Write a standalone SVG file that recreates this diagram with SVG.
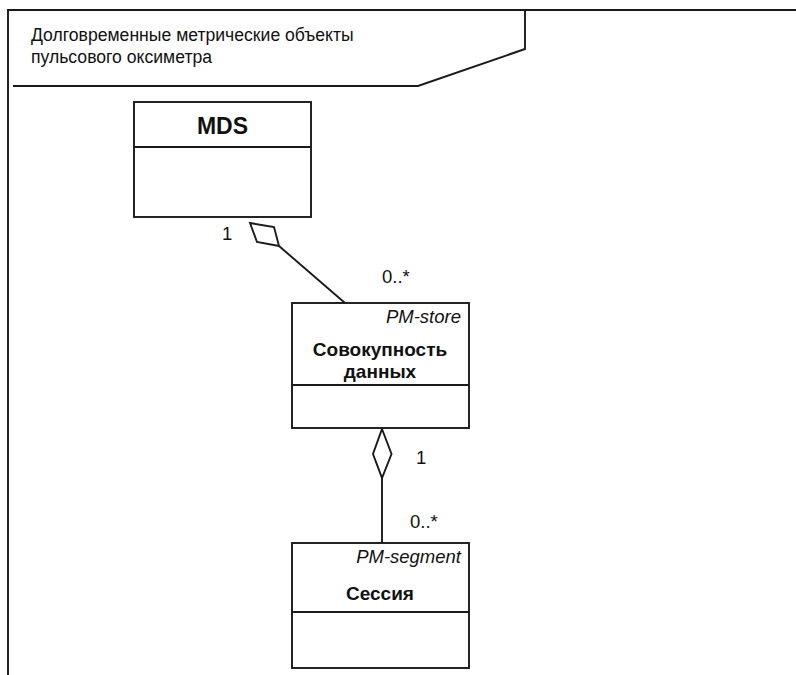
<svg xmlns="http://www.w3.org/2000/svg" width="796" height="675" viewBox="0 0 796 675">
<style>
.ln{fill:none;stroke:#1a1a1a;stroke-width:1.9}
.box{fill:#fff;stroke:#1a1a1a;stroke-width:1.9}
.t{font-family:"Liberation Sans",Arial,sans-serif;fill:#111}
.reg{font-size:17.6px}
.lab{font-size:18.5px}
.it{font-size:18.5px;font-style:italic;text-anchor:end}
.b{font-size:19px;font-weight:bold;text-anchor:middle}
</style>
<rect width="796" height="675" fill="#fff"/>
<g id="frame">
<polyline class="ln" points="8,675 8,10 796,10"/>
<polyline class="ln" points="13,86 418,86 525,49 525,10"/>
<text class="t reg" x="31" y="41">Долговременные метрические объекты</text>
<text class="t reg" x="31" y="63">пульсового оксиметра</text>
</g>
<g id="connectors">
<line class="ln" x1="279" y1="246" x2="345" y2="303"/>
<polygon class="ln" fill="#fff" points="250,223 274,227 279,246 257,242"/>
<line class="ln" x1="382" y1="478" x2="382" y2="543"/>
<polygon class="ln" fill="#fff" points="382,429 391.5,454 382,478 373,454"/>
<text class="t lab" x="222" y="240">1</text>
<text class="t lab" x="382" y="283">0..*</text>
<text class="t lab" x="416" y="464">1</text>
<text class="t lab" x="410" y="528">0..*</text>
</g>
<g id="mds">
<rect class="box" x="134" y="102" width="177" height="115"/>
<line class="ln" x1="134" y1="147" x2="311" y2="147"/>
<text class="t b" x="222.5" y="134" style="font-size:23px">MDS</text>
</g>
<g id="pm-store">
<rect class="box" x="292" y="303" width="177" height="125"/>
<line class="ln" x1="292" y1="385" x2="469" y2="385"/>
<text class="t it" x="461" y="323">PM-store</text>
<text class="t b" x="380" y="356">Совокупность</text>
<text class="t b" x="380" y="378">данных</text>
</g>
<g id="pm-segment">
<rect class="box" x="292" y="543" width="177" height="125"/>
<line class="ln" x1="292" y1="612" x2="469" y2="612"/>
<text class="t it" x="461" y="563">PM-segment</text>
<text class="t b" x="380" y="600">Сессия</text>
</g>
</svg>
